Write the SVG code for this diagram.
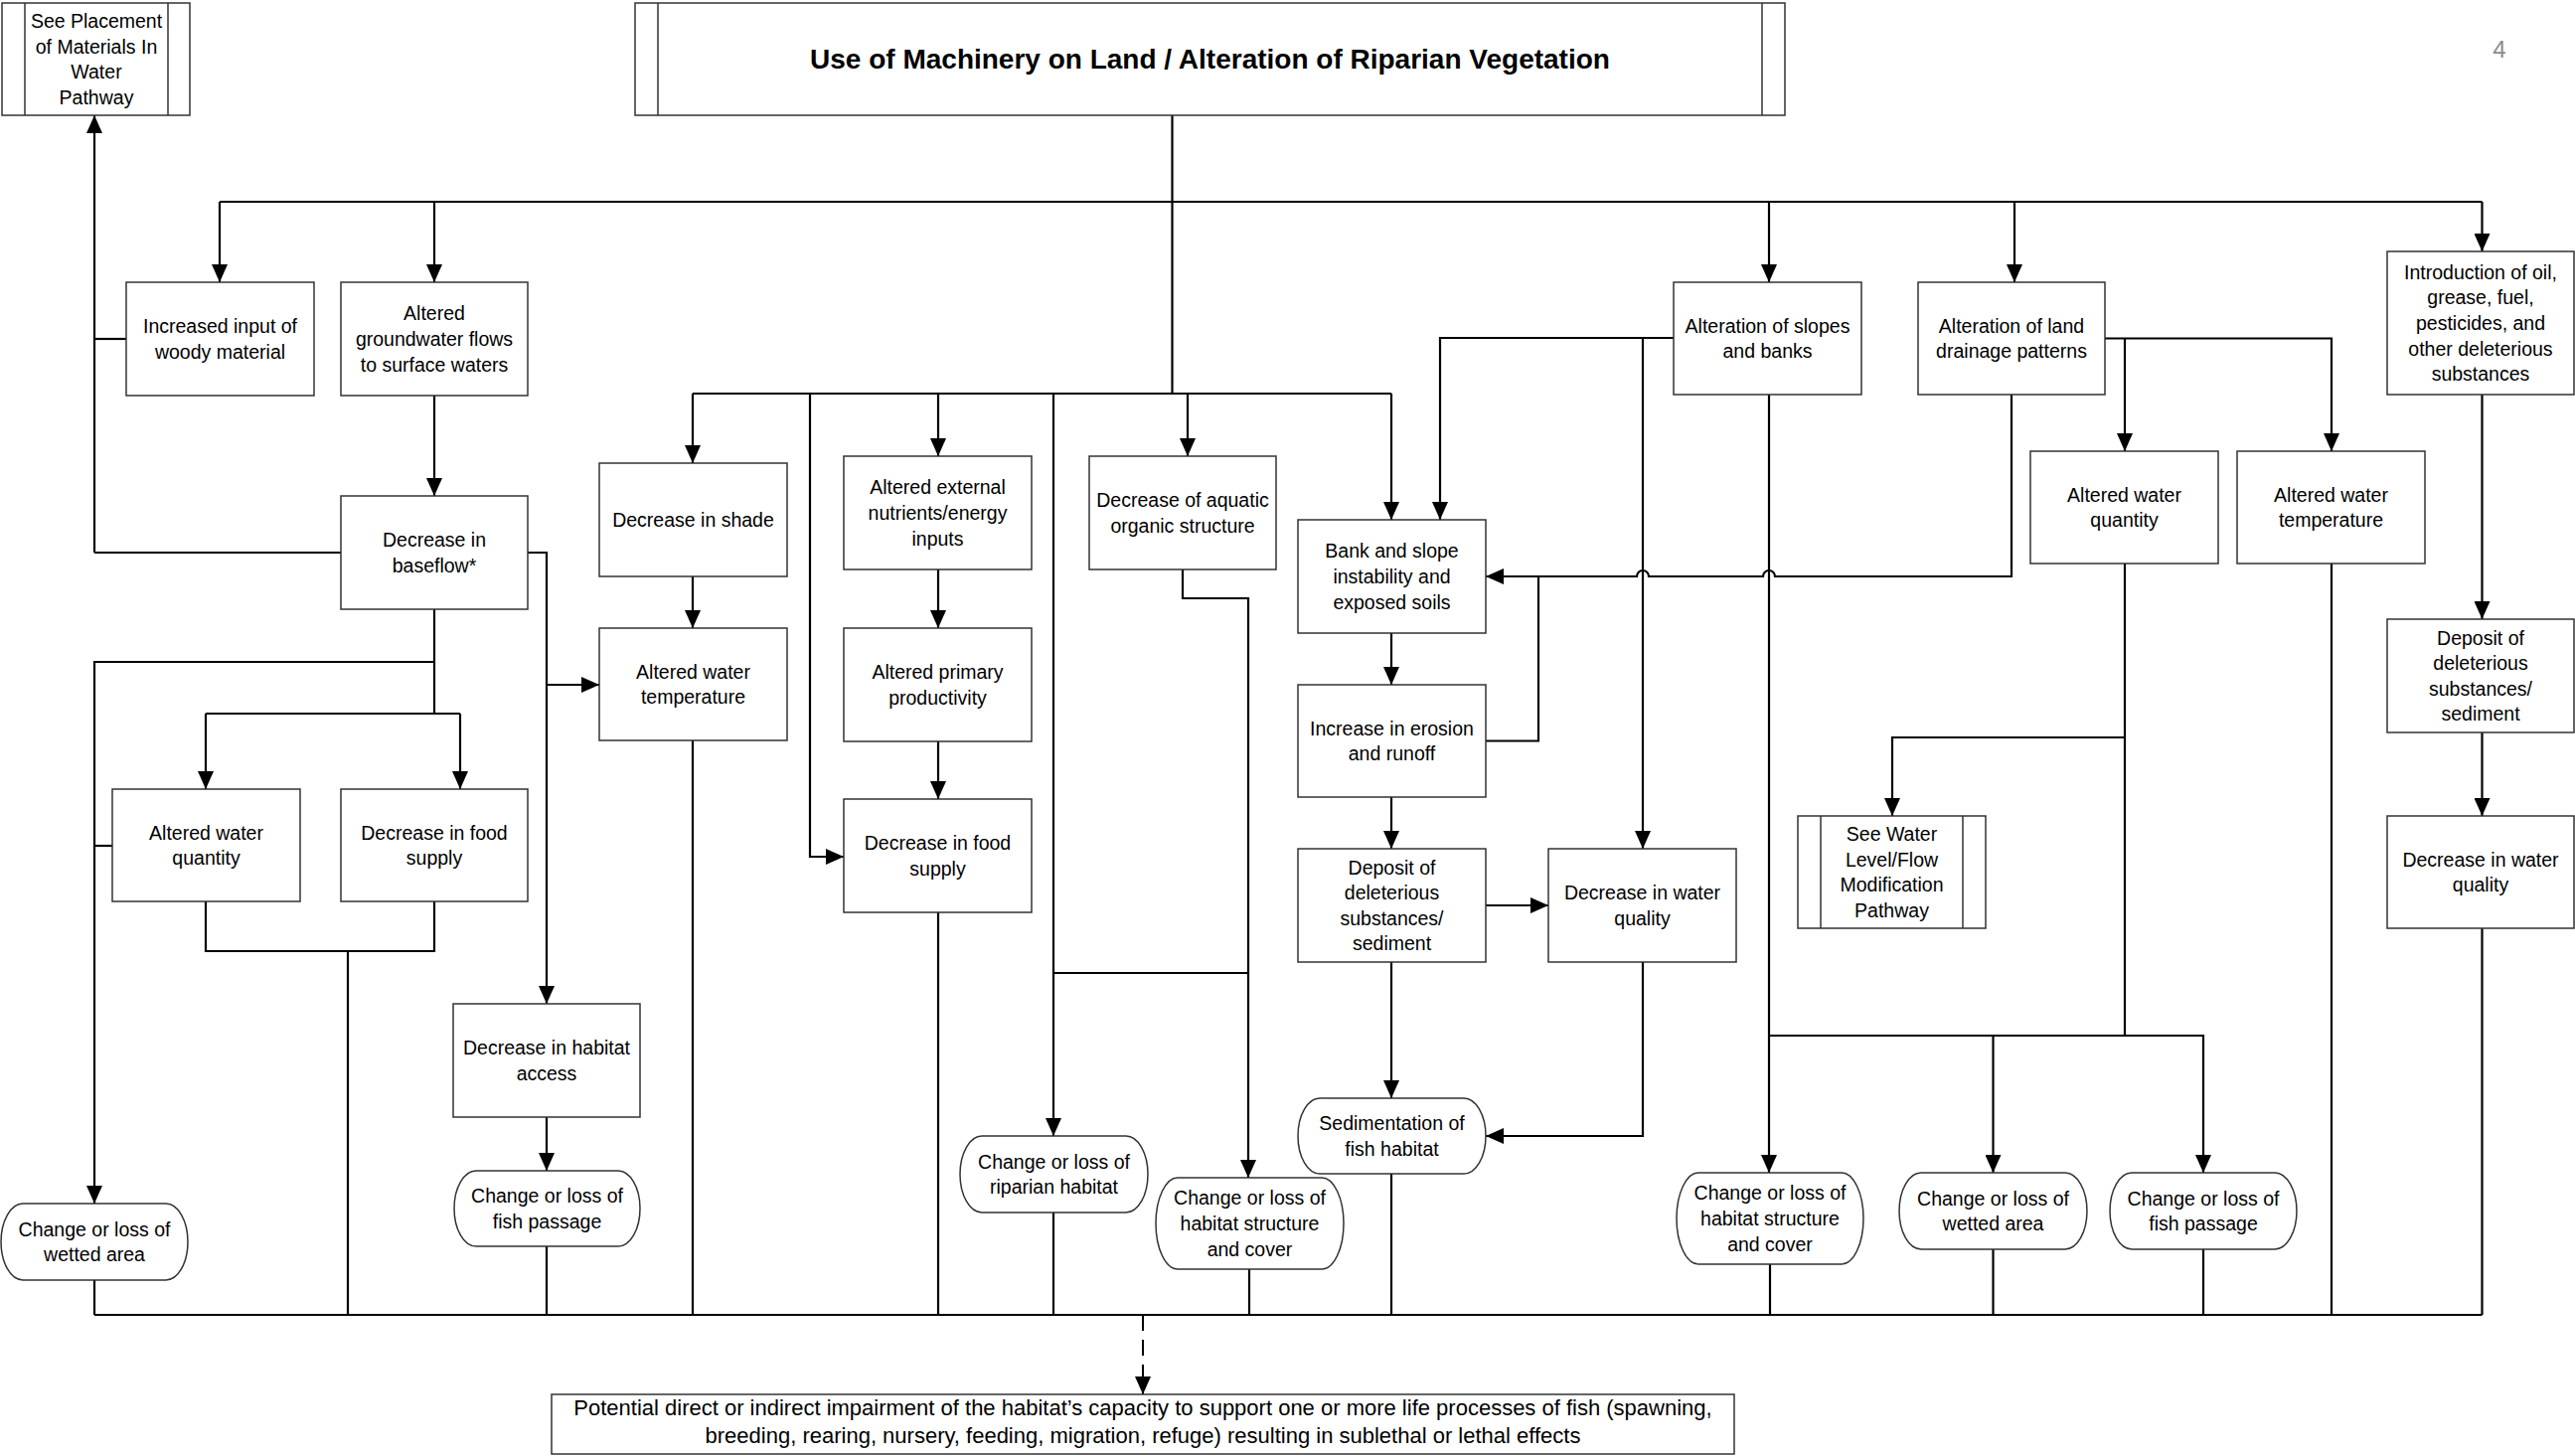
<svg xmlns="http://www.w3.org/2000/svg" width="2591" height="1465" viewBox="0 0 2591 1465">
<style>
.bg{fill:#fff}
.box{fill:#fff;stroke:#333;stroke-width:1.5}
.inner{stroke:#333;stroke-width:1.5}
.ln{fill:none;stroke:#000;stroke-width:2.2}
.dash{fill:none;stroke:#000;stroke-width:2;stroke-dasharray:16 9}
.t{font-family:"Liberation Sans",Arial,sans-serif;font-size:19.5px;text-anchor:middle;fill:#000}
.tb{font-family:"Liberation Sans",Arial,sans-serif;font-size:22px;text-anchor:middle;fill:#000}
.title{font-family:"Liberation Sans",Arial,sans-serif;font-size:28px;font-weight:bold;text-anchor:middle;fill:#000}
.pg{font-family:"Liberation Sans",Arial,sans-serif;font-size:24px;text-anchor:middle;fill:#8c8c8c}
</style>
<defs>
<marker id="a" viewBox="0 0 18 16" refX="18" refY="8" markerWidth="18" markerHeight="16" markerUnits="userSpaceOnUse" orient="auto">
<path d="M0,0 L18,8 L0,16 Z" fill="#000"/>
</marker>
</defs>
<rect class="bg" x="0" y="0" width="2591" height="1465"/>

<g id="connectors">
<path class="ln" d="M1179.5 116 V396"/>
<path class="ln" d="M221 203 H2497.5"/>
<path class="ln" d="M221 203 V284" marker-end="url(#a)"/>
<path class="ln" d="M437 203 V284" marker-end="url(#a)"/>
<path class="ln" d="M1780 203 V284" marker-end="url(#a)"/>
<path class="ln" d="M2027 203 V284" marker-end="url(#a)"/>
<path class="ln" d="M2497.5 203 V253" marker-end="url(#a)"/>

<path class="ln" d="M697 396 H1400"/>
<path class="ln" d="M697 396 V466" marker-end="url(#a)"/>
<path class="ln" d="M815 396 V862 H849" marker-end="url(#a)"/>
<path class="ln" d="M944 396 V459" marker-end="url(#a)"/>
<path class="ln" d="M1060 396 V1143" marker-end="url(#a)"/>
<path class="ln" d="M1195 396 V459" marker-end="url(#a)"/>
<path class="ln" d="M1400 396 V523" marker-end="url(#a)"/>

<path class="ln" d="M95 556 V116" marker-end="url(#a)"/>
<path class="ln" d="M127 341 H95"/>
<path class="ln" d="M343 556 H95"/>
<path class="ln" d="M437 398 V499" marker-end="url(#a)"/>
<path class="ln" d="M437 613 V718"/>
<path class="ln" d="M437 666 H95 V1211" marker-end="url(#a)"/>
<path class="ln" d="M207 718 H463"/>
<path class="ln" d="M207 718 V794" marker-end="url(#a)"/>
<path class="ln" d="M463 718 V794" marker-end="url(#a)"/>
<path class="ln" d="M113 851 H95"/>
<path class="ln" d="M531 556 H550 V1010" marker-end="url(#a)"/>
<path class="ln" d="M550 689 H603" marker-end="url(#a)"/>
<path class="ln" d="M207 907 V957 H437 V907"/>
<path class="ln" d="M350 957 V1323"/>
<path class="ln" d="M697 580 V632" marker-end="url(#a)"/>
<path class="ln" d="M697 745 V1323"/>
<path class="ln" d="M550 1124 V1178" marker-end="url(#a)"/>
<path class="ln" d="M550 1254 V1323"/>
<path class="ln" d="M95 1288 V1323"/>

<path class="ln" d="M944 573 V632" marker-end="url(#a)"/>
<path class="ln" d="M944 746 V804" marker-end="url(#a)"/>
<path class="ln" d="M944 918 V1323"/>
<path class="ln" d="M1190 573 V602 H1256 V1185" marker-end="url(#a)"/>
<path class="ln" d="M1060 979 H1256"/>
<path class="ln" d="M1060 1220 V1323"/>
<path class="ln" d="M1257 1277 V1323"/>
<path class="ln" d="M1400 637 V689" marker-end="url(#a)"/>
<path class="ln" d="M1400 802 V854" marker-end="url(#a)"/>
<path class="ln" d="M1400 968 V1105" marker-end="url(#a)"/>
<path class="ln" d="M1495 911 H1558" marker-end="url(#a)"/>
<path class="ln" d="M1400 1181 V1323"/>
<path class="ln" d="M1653 968 V1143 H1495" marker-end="url(#a)"/>
<path class="ln" d="M1495 745.5 H1548 V580"/>

<path class="ln" d="M1684 340 H1449 V523" marker-end="url(#a)"/>
<path class="ln" d="M1653 340 V854" marker-end="url(#a)"/>
<path class="ln" d="M1780 397 V1180" marker-end="url(#a)"/>
<path class="ln" d="M2024 397 V580 H1786 A6 6 0 0 0 1774 580 H1659 A6 6 0 0 0 1647 580 H1495" marker-end="url(#a)"/>
<path class="ln" d="M2118 340.5 H2346 V454" marker-end="url(#a)"/>
<path class="ln" d="M2138 340.5 V454" marker-end="url(#a)"/>
<path class="ln" d="M2138 567 V1042"/>
<path class="ln" d="M2138 742 H1904 V821" marker-end="url(#a)"/>
<path class="ln" d="M1780 1042 H2217 V1180" marker-end="url(#a)"/>
<path class="ln" d="M2005.5 1042 V1180" marker-end="url(#a)"/>
<path class="ln" d="M1781 1272 V1323"/>
<path class="ln" d="M2005.5 1257 V1323"/>
<path class="ln" d="M2217 1257 V1323"/>
<path class="ln" d="M2346 567 V1323"/>

<path class="ln" d="M2497.5 397 V623" marker-end="url(#a)"/>
<path class="ln" d="M2497.5 737 V821" marker-end="url(#a)"/>
<path class="ln" d="M2497.5 934 V1323"/>

<path class="ln" d="M95 1323 H2497.5"/>
<path class="dash" d="M1150 1323 V1403" marker-end="url(#a)"/>
</g>

<g id="n-see-placement">
<rect class="box" x="2" y="3" width="189" height="113"/>
<line class="inner" x1="25" y1="3" x2="25" y2="116"/>
<line class="inner" x1="169" y1="3" x2="169" y2="116"/>
<text class="t" x="97" y="28.1"><tspan x="97">See Placement</tspan><tspan x="97" dy="25.6">of Materials In</tspan><tspan x="97" dy="25.6">Water</tspan><tspan x="97" dy="25.6">Pathway</tspan></text>
</g>

<g id="n-title">
<rect class="box" x="639" y="3" width="1157" height="113"/>
<line class="inner" x1="662" y1="3" x2="662" y2="116"/>
<line class="inner" x1="1773" y1="3" x2="1773" y2="116"/>
<text class="title" x="1217.5" y="69">Use of Machinery on Land / Alteration of Riparian Vegetation</text>
</g>

<text class="pg" x="2515" y="58">4</text>

<g id="n-woody">
<rect class="box" x="127" y="284" width="189" height="114"/>
<text class="t" x="221.5" y="335.2"><tspan x="221.5">Increased input of</tspan><tspan x="221.5" dy="25.6">woody material</tspan></text>
</g>

<g id="n-groundwater">
<rect class="box" x="343" y="284" width="188" height="114"/>
<text class="t" x="437" y="322.4"><tspan x="437">Altered</tspan><tspan x="437" dy="25.6">groundwater flows</tspan><tspan x="437" dy="25.6">to surface waters</tspan></text>
</g>

<g id="n-baseflow">
<rect class="box" x="343" y="499" width="188" height="114"/>
<text class="t" x="437" y="550.2"><tspan x="437">Decrease in</tspan><tspan x="437" dy="25.6">baseflow*</tspan></text>
</g>

<g id="n-water-quantity-left">
<rect class="box" x="113" y="794" width="189" height="113"/>
<text class="t" x="207.5" y="844.7"><tspan x="207.5">Altered water</tspan><tspan x="207.5" dy="25.6">quantity</tspan></text>
</g>

<g id="n-food-left">
<rect class="box" x="343" y="794" width="188" height="113"/>
<text class="t" x="437" y="844.7"><tspan x="437">Decrease in food</tspan><tspan x="437" dy="25.6">supply</tspan></text>
</g>

<g id="n-habitat-access">
<rect class="box" x="456" y="1010" width="188" height="114"/>
<text class="t" x="550" y="1061.2"><tspan x="550">Decrease in habitat</tspan><tspan x="550" dy="25.6">access</tspan></text>
</g>

<g id="n-shade">
<rect class="box" x="603" y="466" width="189" height="114"/>
<text class="t" x="697.5" y="530">Decrease in shade</text>
</g>

<g id="n-water-temp-left">
<rect class="box" x="603" y="632" width="189" height="113"/>
<text class="t" x="697.5" y="682.7"><tspan x="697.5">Altered water</tspan><tspan x="697.5" dy="25.6">temperature</tspan></text>
</g>

<g id="n-external">
<rect class="box" x="849" y="459" width="189" height="114"/>
<text class="t" x="943.5" y="497.4"><tspan x="943.5">Altered external</tspan><tspan x="943.5" dy="25.6">nutrients/energy</tspan><tspan x="943.5" dy="25.6">inputs</tspan></text>
</g>

<g id="n-primary">
<rect class="box" x="849" y="632" width="189" height="114"/>
<text class="t" x="943.5" y="683.2"><tspan x="943.5">Altered primary</tspan><tspan x="943.5" dy="25.6">productivity</tspan></text>
</g>

<g id="n-food-mid">
<rect class="box" x="849" y="804" width="189" height="114"/>
<text class="t" x="943.5" y="855.2"><tspan x="943.5">Decrease in food</tspan><tspan x="943.5" dy="25.6">supply</tspan></text>
</g>

<g id="n-aquatic">
<rect class="box" x="1096" y="459" width="188" height="114"/>
<text class="t" x="1190" y="510.2"><tspan x="1190">Decrease of aquatic</tspan><tspan x="1190" dy="25.6">organic structure</tspan></text>
</g>

<g id="n-bank">
<rect class="box" x="1306" y="523" width="189" height="114"/>
<text class="t" x="1400.5" y="561.4"><tspan x="1400.5">Bank and slope</tspan><tspan x="1400.5" dy="25.6">instability and</tspan><tspan x="1400.5" dy="25.6">exposed soils</tspan></text>
</g>

<g id="n-erosion">
<rect class="box" x="1306" y="689" width="189" height="113"/>
<text class="t" x="1400.5" y="739.7"><tspan x="1400.5">Increase in erosion</tspan><tspan x="1400.5" dy="25.6">and runoff</tspan></text>
</g>

<g id="n-deposit-mid">
<rect class="box" x="1306" y="854" width="189" height="114"/>
<text class="t" x="1400.5" y="879.6"><tspan x="1400.5">Deposit of</tspan><tspan x="1400.5" dy="25.6">deleterious</tspan><tspan x="1400.5" dy="25.6">substances/</tspan><tspan x="1400.5" dy="25.6">sediment</tspan></text>
</g>

<g id="n-water-quality-mid">
<rect class="box" x="1558" y="854" width="189" height="114"/>
<text class="t" x="1652.5" y="905.2"><tspan x="1652.5">Decrease in water</tspan><tspan x="1652.5" dy="25.6">quality</tspan></text>
</g>

<g id="n-slopes">
<rect class="box" x="1684" y="284" width="189" height="113"/>
<text class="t" x="1778.5" y="334.7"><tspan x="1778.5">Alteration of slopes</tspan><tspan x="1778.5" dy="25.6">and banks</tspan></text>
</g>

<g id="n-drainage">
<rect class="box" x="1930" y="284" width="188" height="113"/>
<text class="t" x="2024" y="334.7"><tspan x="2024">Alteration of land</tspan><tspan x="2024" dy="25.6">drainage patterns</tspan></text>
</g>

<g id="n-water-quantity-right">
<rect class="box" x="2043" y="454" width="189" height="113"/>
<text class="t" x="2137.5" y="504.7"><tspan x="2137.5">Altered water</tspan><tspan x="2137.5" dy="25.6">quantity</tspan></text>
</g>

<g id="n-water-temp-right">
<rect class="box" x="2251" y="454" width="189" height="113"/>
<text class="t" x="2345.5" y="504.7"><tspan x="2345.5">Altered water</tspan><tspan x="2345.5" dy="25.6">temperature</tspan></text>
</g>

<g id="n-see-water-level">
<rect class="box" x="1809" y="821" width="189" height="113"/>
<line class="inner" x1="1832" y1="821" x2="1832" y2="934"/>
<line class="inner" x1="1975" y1="821" x2="1975" y2="934"/>
<text class="t" x="1903.5" y="846.1"><tspan x="1903.5">See Water</tspan><tspan x="1903.5" dy="25.6">Level/Flow</tspan><tspan x="1903.5" dy="25.6">Modification</tspan><tspan x="1903.5" dy="25.6">Pathway</tspan></text>
</g>

<g id="n-introduction">
<rect class="box" x="2402" y="253" width="188" height="144"/>
<text class="t" x="2496" y="280.8"><tspan x="2496">Introduction of oil,</tspan><tspan x="2496" dy="25.6">grease, fuel,</tspan><tspan x="2496" dy="25.6">pesticides, and</tspan><tspan x="2496" dy="25.6">other deleterious</tspan><tspan x="2496" dy="25.6">substances</tspan></text>
</g>

<g id="n-deposit-right">
<rect class="box" x="2402" y="623" width="188" height="114"/>
<text class="t" x="2496" y="648.6"><tspan x="2496">Deposit of</tspan><tspan x="2496" dy="25.6">deleterious</tspan><tspan x="2496" dy="25.6">substances/</tspan><tspan x="2496" dy="25.6">sediment</tspan></text>
</g>

<g id="n-water-quality-right">
<rect class="box" x="2402" y="821" width="188" height="113"/>
<text class="t" x="2496" y="871.7"><tspan x="2496">Decrease in water</tspan><tspan x="2496" dy="25.6">quality</tspan></text>
</g>

<g id="o-wetted-left">
<path class="box" d="M23 1211 H167 A22 38.5 0 0 1 167 1288 H23 A22 38.5 0 0 1 23 1211 Z"/>
<text class="t" x="95" y="1243.7"><tspan x="95">Change or loss of</tspan><tspan x="95" dy="25.6">wetted area</tspan></text>
</g>

<g id="o-fish-left">
<path class="box" d="M479 1178 H622 A22 38 0 0 1 622 1254 H479 A22 38 0 0 1 479 1178 Z"/>
<text class="t" x="550.5" y="1210.2"><tspan x="550.5">Change or loss of</tspan><tspan x="550.5" dy="25.6">fish passage</tspan></text>
</g>

<g id="o-riparian">
<path class="box" d="M988 1143 H1133 A22 38.5 0 0 1 1133 1220 H988 A22 38.5 0 0 1 988 1143 Z"/>
<text class="t" x="1060.5" y="1175.7"><tspan x="1060.5">Change or loss of</tspan><tspan x="1060.5" dy="25.6">riparian habitat</tspan></text>
</g>

<g id="o-habitat-mid">
<path class="box" d="M1185 1185 H1330 A22 46 0 0 1 1330 1277 H1185 A22 46 0 0 1 1185 1185 Z"/>
<text class="t" x="1257.5" y="1212.4"><tspan x="1257.5">Change or loss of</tspan><tspan x="1257.5" dy="25.6">habitat structure</tspan><tspan x="1257.5" dy="25.6">and cover</tspan></text>
</g>

<g id="o-sedimentation">
<path class="box" d="M1328 1105 H1473 A22 38 0 0 1 1473 1181 H1328 A22 38 0 0 1 1328 1105 Z"/>
<text class="t" x="1400.5" y="1137.2"><tspan x="1400.5">Sedimentation of</tspan><tspan x="1400.5" dy="25.6">fish habitat</tspan></text>
</g>

<g id="o-habitat-right">
<path class="box" d="M1709 1180 H1853 A22 46 0 0 1 1853 1272 H1709 A22 46 0 0 1 1709 1180 Z"/>
<text class="t" x="1781" y="1207.4"><tspan x="1781">Change or loss of</tspan><tspan x="1781" dy="25.6">habitat structure</tspan><tspan x="1781" dy="25.6">and cover</tspan></text>
</g>

<g id="o-wetted-right">
<path class="box" d="M1933 1180 H2078 A22 38.5 0 0 1 2078 1257 H1933 A22 38.5 0 0 1 1933 1180 Z"/>
<text class="t" x="2005.5" y="1212.7"><tspan x="2005.5">Change or loss of</tspan><tspan x="2005.5" dy="25.6">wetted area</tspan></text>
</g>

<g id="o-fish-right">
<path class="box" d="M2145 1180 H2289 A22 38.5 0 0 1 2289 1257 H2145 A22 38.5 0 0 1 2145 1180 Z"/>
<text class="t" x="2217" y="1212.7"><tspan x="2217">Change or loss of</tspan><tspan x="2217" dy="25.6">fish passage</tspan></text>
</g>

<g id="n-outcome">
<rect class="box" x="555" y="1403" width="1190" height="60"/>
<text class="tb" x="1150" y="1424"><tspan x="1150">Potential direct or indirect impairment of the habitat’s capacity to support one or more life processes of fish (spawning,</tspan><tspan x="1150" dy="28">breeding, rearing, nursery, feeding, migration, refuge) resulting in sublethal or lethal effects</tspan></text>
</g>
</svg>
